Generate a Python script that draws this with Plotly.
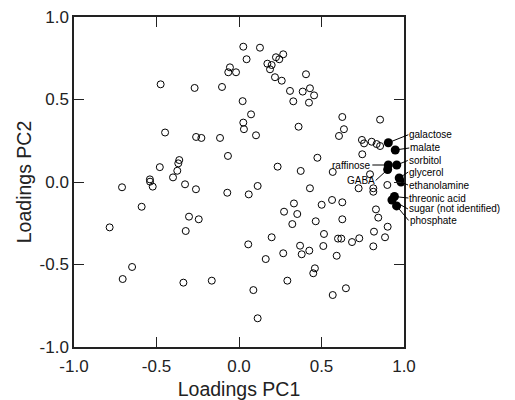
import plotly.graph_objects as go

# Loadings of all metabolites (open circles)
pc1_other = [
    0.026, 0.127, 0.046, -0.055, -0.065, -0.018, -0.475, -0.269, -0.103, 0.022,
    0.073, 0.026, 0.030, 0.103, -0.448, -0.260, -0.228, -0.115, -0.067, -0.362,
    -0.368, -0.374, -0.480, -0.400, -0.540, 0.224, 0.244, 0.268, 0.172, 0.198,
    0.188, 0.218, 0.259, 0.406, 0.309, 0.386, 0.430, 0.455, 0.329, 0.424,
    0.361, 0.626, 0.855, 0.636, 0.606, 0.745, 0.758, 0.804, 0.834, 0.855,
    0.747, 0.475, 0.234, 0.374, 0.568, 0.794, -0.539, -0.523, -0.709, -0.327,
    -0.261, -0.071, 0.059, 0.113, -0.590, -0.784, -0.303, -0.244, -0.323, 0.056,
    -0.648, -0.705, -0.337, -0.165, 0.087, 0.113, 0.430, 0.725, 0.814, 0.814,
    0.899, 0.333, 0.273, 0.353, 0.323, 0.501, 0.564, 0.626, 0.465, 0.626,
    0.830, 0.844, 0.901, 0.818, 0.885, 0.814, 0.198, 0.515, 0.511, 0.600,
    0.620, 0.685, 0.729, 0.370, 0.426, 0.380, 0.268, 0.162, 0.592, 0.460,
    0.450, 0.293, 0.648, 0.568,
]
pc2_other = [
    0.820, 0.814, 0.744, 0.695, 0.665, 0.665, 0.592, 0.570, 0.576, 0.490,
    0.410, 0.360, 0.320, 0.283, 0.300, 0.273, 0.267, 0.267, 0.158, 0.133,
    0.113, 0.068, 0.090, 0.028, 0.016, 0.756, 0.744, 0.774, 0.717, 0.709,
    0.683, 0.635, 0.614, 0.653, 0.552, 0.548, 0.568, 0.525, 0.489, 0.481,
    0.335, 0.394, 0.378, 0.320, 0.279, 0.255, 0.234, 0.244, 0.230, 0.218,
    0.168, 0.147, 0.093, 0.067, 0.061, 0.047, 0.002, -0.028, -0.032, -0.014,
    -0.044, -0.065, -0.075, -0.024, -0.150, -0.275, -0.210, -0.226, -0.297, -0.378,
    -0.515, -0.588, -0.610, -0.598, -0.655, -0.826, -0.038, -0.038, -0.038, -0.059,
    -0.018, -0.130, -0.180, -0.194, -0.255, -0.138, -0.109, -0.123, -0.238, -0.226,
    -0.166, -0.216, -0.271, -0.301, -0.335, -0.390, -0.335, -0.315, -0.388, -0.343,
    -0.343, -0.364, -0.341, -0.386, -0.416, -0.438, -0.432, -0.467, -0.447, -0.523,
    -0.553, -0.598, -0.644, -0.685,
]

# Highlighted metabolites (filled circles)
named = ["galactose", "malate", "sorbitol", "glycerol", "ethanolamine",
         "threonic acid", "sugar (not identified)", "phosphate",
         "raffinose", "GABA"]
named_pc1 = [0.905, 0.947, 0.956, 0.971, 0.982, 0.942, 0.927, 0.955, 0.905, 0.901]
named_pc2 = [0.238, 0.194, 0.103, 0.024, 0.000, -0.088, -0.109, -0.145, 0.103, 0.076]

# Axis ticks (shared by both axes)
tick_values = [-1.0, -0.5, 0.0, 0.5, 1.0]
tick_labels = ["-1.0", "-0.5", "0.0", "0.5", "1.0"]

# Leader-line offsets (pixels) and text anchoring for each label
label_ax = [20, 14, 11, 9, 7, 14, 16, 12, -16, -12]
label_ay = [-8, -2, -4.5, -6, 3, 1.5, 9, 14.5, 0, 11]
label_anchor = ["left"] * 8 + ["right", "right"]

FONT = "Liberation Sans, Arial, sans-serif"

fig = go.Figure()
fig.add_trace(go.Scatter(
    x=pc1_other, y=pc2_other, mode="markers",
    marker=dict(symbol="circle-open", size=7, color="black",
                line=dict(width=1, color="black")),
    hoverinfo="skip", showlegend=False,
))
fig.add_trace(go.Scatter(
    x=named_pc1, y=named_pc2, mode="markers", text=named,
    marker=dict(symbol="circle", size=9, color="black"),
    showlegend=False,
))

for name, x, y, ax, ay, anc in zip(named, named_pc1, named_pc2,
                                   label_ax, label_ay, label_anchor):
    fig.add_annotation(
        x=x, y=y, xref="x", yref="y", text=name,
        showarrow=True, arrowhead=0, arrowwidth=1, arrowcolor="black",
        ax=ax, ay=ay, xanchor=anc, yanchor="middle", standoff=0,
        borderpad=0,
        font=dict(family=FONT, size=10, color="black"),
    )

axis_common = dict(
    range=[-1, 1], tickmode="array", tickvals=tick_values, ticktext=tick_labels,
    showgrid=False, zeroline=False, automargin=False,
    showline=True, linecolor="#222", linewidth=1.5, mirror="ticks",
    ticks="inside", ticklen=10, tickwidth=1.2, tickcolor="#222",
    tickfont=dict(family=FONT, size=17, color="#222"),
)

fig.update_layout(
    width=515, height=400,
    margin=dict(l=74, r=111, t=17, b=53),
    plot_bgcolor="white", paper_bgcolor="white",
    font=dict(family=FONT, color="#222"),
    xaxis=dict(**axis_common, ticklabelstandoff=3,
               title=dict(text="Loadings PC1", standoff=15,
                          font=dict(size=19.5, color="#222"))),
    yaxis=dict(**axis_common,
               title=dict(text="Loadings PC2", standoff=3,
                          font=dict(size=19.5, color="#222"))),
)

fig.write_html("out.html")
